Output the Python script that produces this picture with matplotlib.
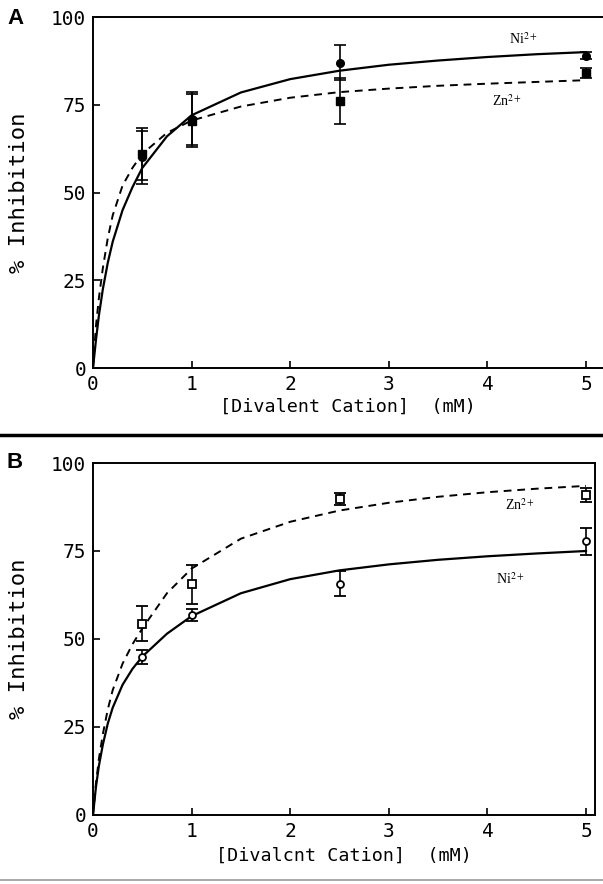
import matplotlib
matplotlib.use("Agg")
import matplotlib.pyplot as plt
from matplotlib.lines import Line2D

plt.rcParams['mathtext.fontset'] = 'stix'

# ---------------- data ----------------
x_pts = [0.5, 1.0, 2.5, 5.0]

# Panel A (filled symbols)
a_ni_y = [60.0, 71.0, 87.0, 89.0]
a_ni_err = [7.5, 7.5, 5.0, 1.0]
a_zn_y = [61.0, 70.5, 76.0, 84.0]
a_zn_err = [7.5, 7.5, 6.5, 1.5]

# Panel B (open symbols)
b_zn_y = [54.3, 65.5, 89.8, 91.0]
b_zn_err = [5.0, 5.5, 1.8, 2.0]
b_ni_y = [44.8, 56.8, 65.7, 77.7]
b_ni_err = [2.0, 1.7, 3.6, 3.8]

# fitted curves
curve_x = [0, 0.03, 0.06, 0.1, 0.15, 0.2, 0.3, 0.4, 0.5, 0.75, 1.0, 1.5,
           2.0, 2.5, 3.0, 3.5, 4.0, 4.5, 5.0]
a_ni_curve = [0, 8, 15, 22.5, 30, 36, 45, 51.5, 57, 66, 72, 78.5,
              82.3, 84.7, 86.4, 87.6, 88.6, 89.4, 90]
a_zn_curve = [0, 12, 20, 28.5, 37, 43.5, 52, 57, 61, 67, 70.5, 74.5,
              77, 78.6, 79.6, 80.4, 81, 81.5, 82]
b_ni_curve = [0, 8, 14, 20, 26, 30.5, 37, 41.5, 45, 51.5, 56.5, 63,
              67, 69.5, 71.2, 72.5, 73.5, 74.3, 75]
b_zn_curve = [0, 9, 16, 23, 30, 35.5, 43, 48.5, 53, 63, 70, 78.5,
              83.3, 86.5, 88.7, 90.4, 91.7, 92.7, 93.5]

x_ticks = [0, 1, 2, 3, 4, 5]
y_ticks = [0, 25, 50, 75, 100]
x_label_a = "[Divalent Cation]  (mM)"
x_label_b = "[Divalcnt Cation]  (mM)"
y_label = "% Inhibition"

# ---------------- figure ----------------
W, H = 603, 884
fig = plt.figure(figsize=(W / 100, H / 100), dpi=100)

mono = 'DejaVu Sans Mono'


def px_axes(x0, x1, ytop, ybot):
    return fig.add_axes([x0 / W, 1 - ybot / H, (x1 - x0) / W, (ybot - ytop) / H])


def style(ax, xmax, right_spine):
    ax.set_xlim(0, xmax)
    ax.set_ylim(0, 100)
    ax.set_xticks(x_ticks)
    ax.set_yticks(y_ticks)
    ax.tick_params(direction='in', length=5, width=1.2, labelsize=14, pad=5)
    for lab in ax.get_xticklabels() + ax.get_yticklabels():
        lab.set_family(mono)
    for s in ax.spines.values():
        s.set_linewidth(1.4)
    ax.spines['right'].set_visible(right_spine)
    ax.set_ylabel(y_label, fontfamily=mono, fontsize=16, labelpad=16)


# Panel A
axA = px_axes(93, 603, 17, 368)
style(axA, (603 - 93) / 98.6, False)
axA.plot(curve_x, a_ni_curve, color='black', lw=1.6)
axA.plot(curve_x, a_zn_curve, color='black', lw=1.4, dashes=(4, 3))
axA.errorbar(x_pts, a_zn_y, yerr=a_zn_err, fmt='s', ms=6, color='black',
             mfc='black', capsize=4, elinewidth=1.2, capthick=1.2)
axA.errorbar(x_pts, a_ni_y, yerr=a_ni_err, fmt='o', ms=5.5, color='black',
             mfc='black', capsize=4, elinewidth=1.2, capthick=1.2)
axA.set_xlabel(x_label_a, fontfamily=mono, fontsize=13.2, labelpad=3)
axA.text(4.36, 93.7, r'Ni$^{2+}$', fontsize=10, fontfamily='Liberation Serif',
         ha='center', va='center')
axA.text(4.2, 76, r'Zn$^{2+}$', fontsize=10, fontfamily='Liberation Serif',
         ha='center', va='center')

# Panel B
axB = px_axes(93, 595, 463, 815)
style(axB, (595 - 93) / 98.6, True)
axB.plot(curve_x, b_ni_curve, color='black', lw=1.6)
axB.plot(curve_x, b_zn_curve, color='black', lw=1.4, dashes=(4, 3))
axB.errorbar(x_pts, b_zn_y, yerr=b_zn_err, fmt='s', ms=6, color='black',
             mfc='white', mew=1.3, capsize=4, elinewidth=1.2, capthick=1.2)
axB.errorbar(x_pts, b_ni_y, yerr=b_ni_err, fmt='o', ms=5, color='black',
             mfc='white', mew=1.3, capsize=4, elinewidth=1.2, capthick=1.2)
axB.set_xlabel(x_label_b, fontfamily=mono, fontsize=13.2, labelpad=4)
axB.text(4.33, 88, r'Zn$^{2+}$', fontsize=10, fontfamily='Liberation Serif',
         ha='center', va='center')
axB.text(4.23, 67, r'Ni$^{2+}$', fontsize=10, fontfamily='Liberation Serif',
         ha='center', va='center')

# Panel letters
fig.text(7 / W, 1 - 18 / H, 'A', fontsize=16, fontfamily='Liberation Sans',
         fontweight='bold', ha='left', va='center')
fig.text(7 / W, 1 - 463 / H, 'B', fontsize=16, fontfamily='Liberation Sans',
         fontweight='bold', ha='left', va='center')

# separator lines
fig.add_artist(Line2D([0, 1], [1 - 435 / H, 1 - 435 / H], color='black', lw=2.5,
                      transform=fig.transFigure))
fig.add_artist(Line2D([0, 1], [1 - 880 / H, 1 - 880 / H], color='#999999', lw=1.2,
                      transform=fig.transFigure))

fig.savefig('out.png', dpi=100)
